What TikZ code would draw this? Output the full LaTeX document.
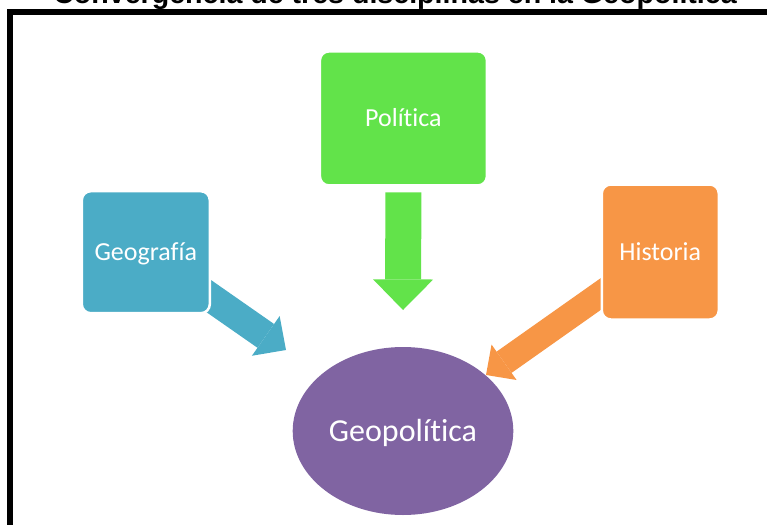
\documentclass[tikz,border=0pt]{standalone}
\usepackage{fontspec}
\setmainfont{Carlito}[Ligatures=NoCommon]
\newfontfamily\titlefont{Liberation Sans}
\usepackage{xcolor}
\usepackage{tikz}
\usetikzlibrary{arrows.meta,shapes.geometric,backgrounds}

\definecolor{verde}{HTML}{62E34A}
\definecolor{azul}{HTML}{4BACC6}
\definecolor{naranja}{HTML}{F79646}
\definecolor{morado}{HTML}{8064A2}

\tikzset{
  caja/.style={rectangle, rounded corners=9pt, draw=white, line width=2.5pt,
    inner sep=0pt, text=white, font=\fontsize{26}{30}\selectfont,
    text height=16.7pt, text depth=0pt},
  blockarrow/.style={line width=#1,
    -{Triangle[length=0pt 0.85, width=0pt 1.67, line width=0pt]}}
}

\begin{document}
\begin{tikzpicture}[x=1pt,y=-1pt]
    \useasboundingbox (0,0) rectangle (767,524);
    \clip (0,0) rectangle (767,524);

    % titulo y marco
    \node[anchor=base, font=\titlefont\bfseries\fontsize{28.6}{34}\selectfont] (titulo) at (395,4)
        {Convergencia de tres disciplinas en la Geopolítica};
    \draw[line width=6pt] (10.3,600) -- (10.3,11.7) -- (800,11.7);

    % disciplinas
    \node[caja, fill=verde, minimum width=167pt, minimum height=134pt] (pol) at (403.4,118.4) {Política};
    \node[caja, fill=azul, minimum width=128pt, minimum height=122pt] (geo) at (145.8,252.2) {Geografía};
    \node[caja, fill=naranja, minimum width=117pt, minimum height=135pt] (hist) at (660.3,252) {Historia};
    \node[ellipse, fill=morado, minimum width=220.6pt, minimum height=168pt, inner sep=0pt,
        text=white, font=\fontsize{32}{38}\selectfont, text height=20.6pt, text depth=0pt]
        (geop) at (403,431) {Geopolítica};

    \coordinate (tipP) at (403,310);
    \coordinate (tipG) at (286,350);
    \coordinate (tipH) at (486,375);

    % flechas
    \begin{scope}[on background layer]
        \draw[blockarrow=36pt, verde] ([yshift=-5.7pt]pol.south) -- (tipP);
        \draw[blockarrow=29pt, azul] (geo.center) -- (tipG);
        \draw[blockarrow=26pt, naranja] (hist.center) -- (tipH);
    \end{scope}
\end{tikzpicture}
\end{document}
